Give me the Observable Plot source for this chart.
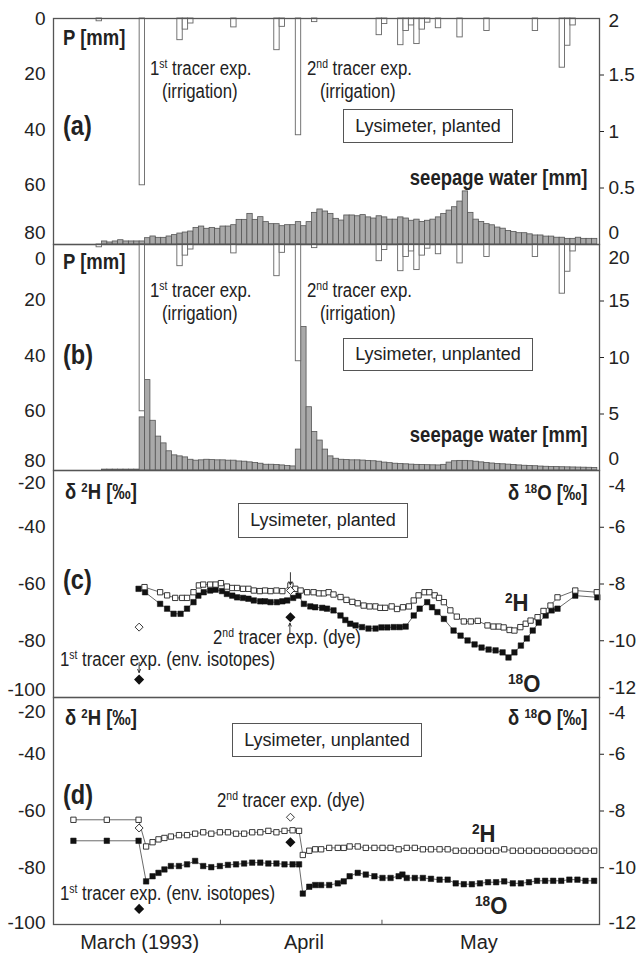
<!DOCTYPE html>
<html><head><meta charset="utf-8">
<script src="https://cdn.jsdelivr.net/npm/d3@7"></script>
<script src="https://cdn.jsdelivr.net/npm/@observablehq/plot@0.6"></script>
<style>
html,body{margin:0;padding:0;background:#fff;}
#chart{position:relative;width:636px;height:956px;overflow:hidden;color:#222;font-family:"Liberation Sans Narrow","Arial Narrow","Liberation Sans",Arial,sans-serif;}
#chart svg{position:absolute;left:0;overflow:visible;}
.t{position:absolute;white-space:nowrap;line-height:1;}
.t sup{font-size:0.62em;vertical-align:0;position:relative;top:-0.55em;}
.box{position:absolute;border:1px solid #555;background:#fff;font-family:"Liberation Sans",Arial,sans-serif;font-size:18px;display:flex;align-items:center;justify-content:center;white-space:nowrap;box-sizing:border-box;}
</style></head>
<body><div id="chart"></div>
<script>
// ---------- data (day = days after 1 March 1993) ----------
const precipDays = [8, 16, 23, 24, 25, 33, 41, 42, 45, 48, 60, 61, 64, 65, 66, 67, 68, 69, 71, 75, 80, 89, 94, 95, 96];
const precipMm   = [1, 60, 7.8, 4, 1.8, 3.2, 11.4, 3, 42, 1.3, 6, 2, 9.6, 4.5, 2.5, 9.2, 4, 1.5, 3.5, 6.8, 4.5, 4.5, 17.7, 9.8, 2.5];

const seepPlantedStart = 9;
const seepPlanted = [0.027,0.018,0.027,0.038,0.027,0.027,0.027,0.027,0.056,0.071,0.059,0.059,0.071,0.083,0.097,0.106,0.115,0.147,0.159,0.139,0.147,0.139,0.159,0.159,0.171,0.218,0.218,0.271,0.218,0.242,0.198,0.18,0.18,0.162,0.171,0.171,0.198,0.162,0.198,0.28,0.31,0.292,0.271,0.227,0.212,0.257,0.257,
  0.25,0.26,0.24,0.23,0.25,0.24,0.22,0.22,0.24,0.23,0.21,0.22,0.20,0.21,0.22,0.24,0.27,0.30,0.33,0.38,0.47,0.28,0.22,0.20,0.18,0.17,0.15,0.14,0.12,0.11,0.10,0.10,0.09,0.08,0.08,0.07,0.07,0.06,0.06,0.05,0.05,0.06,0.05,0.05,0.05];

const seepUnplantedStart = 9;
const seepUnplanted = [0.08,0.08,0.08,0.08,0.08,0.08,0.08,
  4.7,8.0,4.4,3.0,2.4,1.7,1.34,1.25,1.16,0.95,0.87,0.9,0.95,0.92,0.9,0.9,0.87,0.87,0.8,0.78,0.72,0.66,0.6,0.51,0.51,0.49,0.45,0.39,0.36,
  1.85,12.7,5.6,3.4,2.65,1.85,1.25,1.04,0.95,0.92,0.9,
  0.9,0.88,0.85,0.82,0.78,0.7,0.65,0.6,0.57,0.55,0.52,0.5,0.48,0.47,0.46,0.45,0.5,0.7,0.82,0.85,0.85,0.82,0.78,
  0.72,0.66,0.62,0.58,0.55,0.52,0.48,0.45,0.42,0.4,0.38,0.35,0.33,0.31,0.3,0.29,0.28,0.27,0.26,0.25,0.24,0.23];

// panel (c) planted
const c2HDays = [16.9,19.8,21.1,22.6,23.9,24.8,26.0,27.0,27.8,29.1,30.1,31.1,32.2,33.2,34.1,35.2,36.2,37.2,38.3,39.3,40.3,41.4,42.5,44.0,44.9,45.9,47.1,48.3,49.3,50.2,51.1,52.0,53.3,54.4,55.5,56.5,57.6,58.7,59.8,60.7,61.6,62.8,63.8,64.9,66.0,66.9,67.8,68.9,69.8,70.8,71.6,72.5,73.7,74.9,76.2,77.5,78.8,80.6,81.7,82.7,83.6,84.7,85.6,86.7,87.7,88.6,89.9,91.0,92.3,93.6,96.9,100.9];
const c2H = [-61.1,-62.9,-64.0,-64.9,-64.9,-64.9,-62.9,-60.5,-60.2,-60.2,-60.2,-59.7,-60.9,-61.4,-61.4,-61.7,-61.7,-62.3,-62.5,-62.3,-62.5,-62.3,-62.5,-60.5,-61.7,-62.3,-62.9,-62.9,-63.3,-63.3,-62.9,-63.7,-64.6,-65.6,-66.3,-66.8,-67.6,-67.9,-67.9,-68.4,-68.4,-67.9,-68.8,-68.2,-67.9,-65.8,-64.0,-62.9,-62.9,-64.0,-64.9,-66.4,-69.3,-71.5,-73.2,-73.2,-73.0,-74.6,-75.0,-75.0,-75.3,-76.2,-76.4,-75.2,-74.0,-72.9,-71.7,-69.5,-67.6,-64.7,-62.3,-62.9];
const c18ODays = [15.8,17.0,19.8,21.1,22.3,23.6,24.8,26.0,26.9,27.9,29.1,30.1,31.3,32.2,33.2,34.1,35.2,36.2,37.2,38.4,39.3,40.3,41.5,42.5,43.4,44.5,45.5,46.5,47.7,48.6,49.9,50.8,52.0,53.3,54.2,55.1,56.1,57.3,58.5,59.8,60.9,62.0,63.2,64.3,65.4,66.9,68.0,69.4,70.3,71.3,72.5,74.3,75.6,76.9,78.2,79.5,80.8,82.1,83.4,84.5,85.6,86.8,87.9,89.0,90.1,91.4,92.5,93.6,96.9,101.0];
const c18O = [-8.17,-8.29,-8.70,-8.87,-9.05,-9.05,-8.87,-8.64,-8.41,-8.29,-8.23,-8.20,-8.25,-8.35,-8.41,-8.47,-8.49,-8.52,-8.58,-8.61,-8.61,-8.64,-8.64,-8.61,-8.58,-8.49,-8.41,-8.70,-8.79,-8.82,-8.84,-8.87,-8.93,-9.11,-9.27,-9.40,-9.46,-9.52,-9.57,-9.57,-9.53,-9.53,-9.52,-9.52,-9.50,-9.11,-8.87,-8.64,-8.82,-8.99,-9.23,-9.64,-9.82,-9.99,-10.13,-10.24,-10.31,-10.34,-10.41,-10.59,-10.41,-10.17,-9.92,-9.64,-9.36,-9.11,-8.93,-8.87,-8.41,-8.47];

// panel (d) unplanted
const d2HDays = [3.7,9.9,15.8,17.2,18.4,19.5,20.6,21.8,23.3,24.8,26.3,27.8,29.3,30.9,32.4,33.9,35.4,36.9,38.4,39.9,41.4,42.9,44.4,45.6,46.3,47.5,48.6,49.7,51.2,52.8,53.9,55.0,56.5,58.0,59.6,61.1,62.6,64.1,65.6,67.1,68.6,70.1,71.7,73.2,74.7,76.2,77.7,79.2,80.7,82.2,83.7,85.3,86.8,88.3,89.8,91.3,92.8,94.3,95.8,97.3,98.8,100.4];
const d2H = [-63.1,-63.1,-63.1,-72.5,-71,-70,-69.5,-69,-68.5,-68.5,-68,-67.5,-68,-67.5,-67.5,-68,-68,-67.5,-67.5,-67,-67.5,-67,-66.8,-67,-75.5,-74,-73.5,-73.5,-73,-73,-73,-72.5,-72.5,-73,-73,-73,-73,-73.5,-73,-73,-73.5,-73.5,-73.5,-73.5,-74,-74,-74,-74,-74,-74,-73.5,-74,-74,-74,-74,-74,-74,-74,-74,-74,-74,-74];
const d18ODays = [3.7,9.9,15.8,17.2,18.4,19.5,20.6,21.8,23.3,24.8,26.3,27.8,29.3,30.9,32.4,33.9,35.4,36.9,38.4,39.9,41.4,42.9,44.4,45.6,46.3,47.5,48.6,49.7,51.2,52.8,53.9,55.0,56.5,58.0,59.6,61.1,62.6,64.1,64.8,65.6,67.1,68.6,70.1,71.7,73.2,74.7,76.2,77.7,79.2,80.7,82.2,83.7,85.3,86.8,88.3,89.8,91.3,92.8,94.3,95.8,97.3,98.8,100.4];
const d18O = [-9.05,-9.05,-9.05,-10.48,-10.30,-10.18,-10.06,-9.94,-9.94,-9.88,-9.76,-9.94,-9.98,-9.94,-9.90,-9.88,-9.85,-9.82,-9.82,-9.85,-9.85,-9.88,-9.88,-9.88,-10.91,-10.67,-10.61,-10.61,-10.61,-10.55,-10.48,-10.30,-10.18,-10.24,-10.30,-10.36,-10.36,-10.30,-10.24,-10.36,-10.36,-10.36,-10.39,-10.42,-10.42,-10.55,-10.58,-10.58,-10.55,-10.51,-10.51,-10.48,-10.55,-10.55,-10.51,-10.46,-10.46,-10.46,-10.46,-10.42,-10.42,-10.46,-10.46];

// tracer compositions (open diamond = delta 2H, filled diamond = delta 18O)
const tracerDays = [15.9, 44];
const tracer2H_c = [-75.2, -62.3];
const tracer18O_c = [-11.37, -9.17];
const tracer2H_d = [-66, -62.2];
const tracer18O_d = [-11.45, -9.1];

// arrows (day, from, to) in delta-2H units
const arrowsC = [{day: 44, from: -56, to: -60.3}, {day: 43.9, from: -77.2, to: -73.8}, {day: 15.9, from: -87.6, to: -91.2}];

// axis ticks
const pTicks = [0, 20, 40, 60, 80];
const seepTicksPlanted = [0, 0.5, 1, 1.5, 2];
const seepTicksUnplanted = [0, 5, 10, 15, 20];
const d2HTicks = [-20, -40, -60, -80, -100];
const d18OTicks = [-4, -6, -8, -10, -12];
const monthStarts = [31, 61];
const monthLabelDays = [16, 46.5, 79];
const monthLabels = ["March (1993)", "April", "May"];

// ---------- drawing ----------
const chart = document.getElementById("chart");
const ML = 53, MR = 37, W = 636;
const FONT = '"Liberation Sans Narrow","Arial Narrow","Liberation Sans",Arial,sans-serif';
const INK = "#222", FRAME = "#555";
const PMAX = 81.3;
const FS = 19;
const xOpt = {domain: [0, 101.4]};
const num = v => String(Math.round(v * 100) / 100);

function baseStyle(top) {
  return {position: "absolute", top: top + "px", left: "0px", overflow: "visible", fontFamily: FONT, fontSize: FS + "px", color: INK, background: "transparent"};
}
const ax = (o) => ({tickSize: 0, fontSize: FS, label: null, ...o});

function barPanel({top, height, mt, seepStart, seep, seepMax, seepTicks, dyP0, dyP80, dyS0, dySTop}) {
  const toP = s => PMAX * (1 - s / seepMax);
  const fromP = p => seepMax * (1 - p / PMAX);
  const precip = precipDays.map((d, i) => ({day: d, p: precipMm[i]}));
  const seepData = seep.map((s, i) => ({day: seepStart + i, s}));
  const plot = Plot.plot({
    width: W, height, marginLeft: ML, marginRight: MR, marginTop: mt, marginBottom: 0,
    x: {...xOpt, axis: null},
    y: {domain: [0, PMAX], reverse: true, axis: null},
    style: baseStyle(top),
    marks: [
      Plot.rect(seepData, {x1: "day", x2: d => d.day + 1, y1: d => toP(d.s), y2: PMAX, fill: "#a9a9a9", stroke: "#555", strokeWidth: 0.8}),
      Plot.rect(precip, {x1: "day", x2: d => d.day + 1, y1: 0, y2: "p", fill: "white", stroke: "#666", strokeWidth: 0.9}),
      Plot.frame({stroke: FRAME, strokeWidth: 1.3}),
      Plot.axisY(pTicks.slice(1, -1), ax({anchor: "left", tickPadding: 8, tickFormat: num})),
      Plot.axisY([pTicks[0]], ax({anchor: "left", tickPadding: 8, dy: dyP0, tickFormat: num})),
      Plot.axisY([pTicks[4]], ax({anchor: "left", tickPadding: 8, dy: dyP80, tickFormat: num})),
      Plot.axisY(seepTicks.slice(1, -1).map(toP), ax({anchor: "right", tickSize: 4, tickPadding: 5, tickFormat: p => num(fromP(p))})),
      Plot.axisY([toP(seepTicks[0])], ax({anchor: "right", tickPadding: 9, dy: dyS0, tickFormat: p => num(fromP(p))})),
      Plot.axisY([toP(seepTicks[4])], ax({anchor: "right", tickPadding: 9, dy: dySTop, tickFormat: p => num(fromP(p))}))
    ]
  });
  chart.appendChild(plot);
  return plot;
}

function isoPanel({top, height, mb, h2, o18, h2Days, o18Days, t2H, t18O, arrows, dyL20, dyL100, dyR4, dyR12, xAxis}) {
  const eq = o => 10 * o + 20;      // delta 18O -> position on the delta 2H axis
  const inv = p => (p - 20) / 10;
  const hData = h2.map((v, i) => ({day: h2Days[i], v}));
  const oData = o18.map((v, i) => ({day: o18Days[i], v: eq(v)}));
  const tOpen = tracerDays.map((d, i) => ({day: d, v: t2H[i]}));
  const tFill = tracerDays.map((d, i) => ({day: d, v: eq(t18O[i])}));
  const marks = [
    Plot.line(oData, {x: "day", y: "v", stroke: "#444", strokeWidth: 0.8}),
    Plot.line(hData, {x: "day", y: "v", stroke: "#444", strokeWidth: 0.8}),
    Plot.dot(oData, {x: "day", y: "v", symbol: "square", r: 3.1, fill: "#111", stroke: "#111", strokeWidth: 0.5}),
    Plot.dot(hData, {x: "day", y: "v", symbol: "square", r: 3.0, fill: "white", stroke: "#222", strokeWidth: 0.9}),
    Plot.dot(tOpen, {x: "day", y: "v", symbol: "diamond2", r: 3.6, fill: "white", stroke: "#222", strokeWidth: 0.9}),
    Plot.dot(tFill, {x: "day", y: "v", symbol: "diamond2", r: 3.6, fill: "#111", stroke: "#111"}),
    Plot.frame({stroke: FRAME, strokeWidth: 1.3}),
    Plot.axisY(d2HTicks.slice(1, -1), ax({anchor: "left", tickPadding: 8, tickFormat: num})),
    Plot.axisY([d2HTicks[0]], ax({anchor: "left", tickPadding: 8, dy: dyL20, tickFormat: num})),
    Plot.axisY([d2HTicks[4]], ax({anchor: "left", tickPadding: 8, dy: dyL100, tickFormat: num})),
    Plot.axisY(d18OTicks.slice(1, -1).map(eq), ax({anchor: "right", tickSize: 4, tickPadding: 5, tickFormat: p => num(inv(p))})),
    Plot.axisY([eq(d18OTicks[0])], ax({anchor: "right", tickPadding: 9, dy: dyR4, tickFormat: p => num(inv(p))})),
    Plot.axisY([eq(d18OTicks[4])], ax({anchor: "right", tickPadding: 9, dy: dyR12, tickFormat: p => num(inv(p))}))
  ];
  if (arrows) marks.push(Plot.arrow(arrows, {x1: "day", x2: "day", y1: "from", y2: "to", stroke: "#222", strokeWidth: 0.9, headLength: 6, headAngle: 50}));
  if (xAxis) {
    marks.push(Plot.ruleX(monthStarts, {x: d => d, y1: -100, y2: -98.5, stroke: FRAME, strokeWidth: 1}));
    marks.push(Plot.axisX(monthLabelDays, ax({anchor: "bottom", tickPadding: 10, fontSize: 20, tickFormat: d => monthLabels[monthLabelDays.indexOf(d)]})));
  }
  const plot = Plot.plot({
    width: W, height, marginLeft: ML, marginRight: MR, marginTop: 0, marginBottom: mb,
    x: {...xOpt, axis: null},
    y: {domain: [-100, -20], axis: null},
    style: baseStyle(top),
    marks
  });
  chart.appendChild(plot);
  return plot;
}

barPanel({top: 0, height: 244, mt: 18, seepStart: seepPlantedStart, seep: seepPlanted, seepMax: 2, seepTicks: seepTicksPlanted, dyP0: 0, dyP80: -8, dyS0: -12, dySTop: 2});
barPanel({top: 244, height: 226, mt: 0, seepStart: seepUnplantedStart, seep: seepUnplanted, seepMax: 20, seepTicks: seepTicksUnplanted, dyP0: 14, dyP80: -6, dyS0: -12, dySTop: 13});
isoPanel({top: 470, height: 227, mb: 0, h2: c2H, o18: c18O, h2Days: c2HDays, o18Days: c18ODays, t2H: tracer2H_c, t18O: tracer18O_c, arrows: arrowsC, dyL20: 12, dyL100: -8, dyR4: 15, dyR12: -10});
isoPanel({top: 697, height: 259, mb: 32, h2: d2H, o18: d18O, h2Days: d2HDays, o18Days: d18ODays, t2H: tracer2H_d, t18O: tracer18O_d, arrows: null, dyL20: 14, dyL100: -2, dyR4: 15, dyR12: -2, xAxis: true});

// ---------- text labels (narrowed to mimic the condensed face) ----------
const NARROW = 0.84;
function txt(html, o) {
  const el = document.createElement("div");
  el.className = "t";
  el.innerHTML = html;
  const sx = o.sx || NARROW;
  if (o.left != null) {
    el.style.left = o.left + "px";
    el.style.transformOrigin = "left center";
  } else {
    el.style.right = (W - o.right) + "px";
    el.style.transformOrigin = "right center";
  }
  el.style.transform = `translateY(-50%) scaleX(${sx})`;
  el.style.top = o.cy + "px";
  el.style.fontSize = (o.size || 20) + "px";
  if (o.bold) el.style.fontWeight = "bold";
  chart.appendChild(el);
}
function box(label, left, top, w, h) {
  const el = document.createElement("div");
  el.className = "box";
  el.textContent = label;
  Object.assign(el.style, {left: left + "px", top: top + "px", width: w + "px", height: h + "px"});
  chart.appendChild(el);
}

// (a)
txt("P [mm]", {left: 63, cy: 38, size: 22, bold: true});
txt("(a)", {left: 63, cy: 126, size: 28, bold: true});
txt("1<sup>st</sup> tracer exp.", {left: 150, cy: 68});
txt("(irrigation)", {left: 162, cy: 91});
txt("2<sup>nd</sup> tracer exp.", {left: 307, cy: 68});
txt("(irrigation)", {left: 320, cy: 91});
box("Lysimeter, planted", 343, 109, 170, 34);
txt("seepage water [mm]", {right: 588, cy: 178, size: 22, bold: true});
// (b)
txt("P [mm]", {left: 63, cy: 262, size: 22, bold: true});
txt("(b)", {left: 63, cy: 355, size: 28, bold: true});
txt("1<sup>st</sup> tracer exp.", {left: 150, cy: 290});
txt("(irrigation)", {left: 162, cy: 313});
txt("2<sup>nd</sup> tracer exp.", {left: 307, cy: 290});
txt("(irrigation)", {left: 320, cy: 313});
box("Lysimeter, unplanted", 343, 338, 190, 33);
txt("seepage water [mm]", {right: 588, cy: 435, size: 22, bold: true});
// (c)
txt("δ <sup>2</sup>H [‰]", {left: 65, cy: 492, size: 22, bold: true});
txt("δ <sup>18</sup>O [‰]", {right: 588, cy: 493, size: 22, bold: true});
box("Lysimeter, planted", 238, 503, 170, 35);
txt("(c)", {left: 63, cy: 580, size: 28, bold: true});
txt("<sup>2</sup>H", {left: 505, cy: 603, size: 24, bold: true, sx: 0.92});
txt("<sup>18</sup>O", {left: 508, cy: 684, size: 24, bold: true, sx: 0.92});
txt("2<sup>nd</sup> tracer exp. (dye)", {left: 213, cy: 637});
txt("1<sup>st</sup> tracer exp. (env. isotopes)", {left: 60, cy: 659});
// (d)
txt("δ <sup>2</sup>H [‰]", {left: 65, cy: 718, size: 22, bold: true});
txt("δ <sup>18</sup>O [‰]", {right: 588, cy: 718, size: 22, bold: true});
box("Lysimeter, unplanted", 232, 723, 190, 34);
txt("(d)", {left: 63, cy: 795, size: 28, bold: true});
txt("2<sup>nd</sup> tracer exp. (dye)", {left: 217, cy: 800});
txt("<sup>2</sup>H", {left: 472, cy: 834, size: 24, bold: true, sx: 0.92});
txt("<sup>18</sup>O", {left: 475, cy: 906, size: 24, bold: true, sx: 0.92});
txt("1<sup>st</sup> tracer exp. (env. isotopes)", {left: 60, cy: 893});
</script></body></html>
